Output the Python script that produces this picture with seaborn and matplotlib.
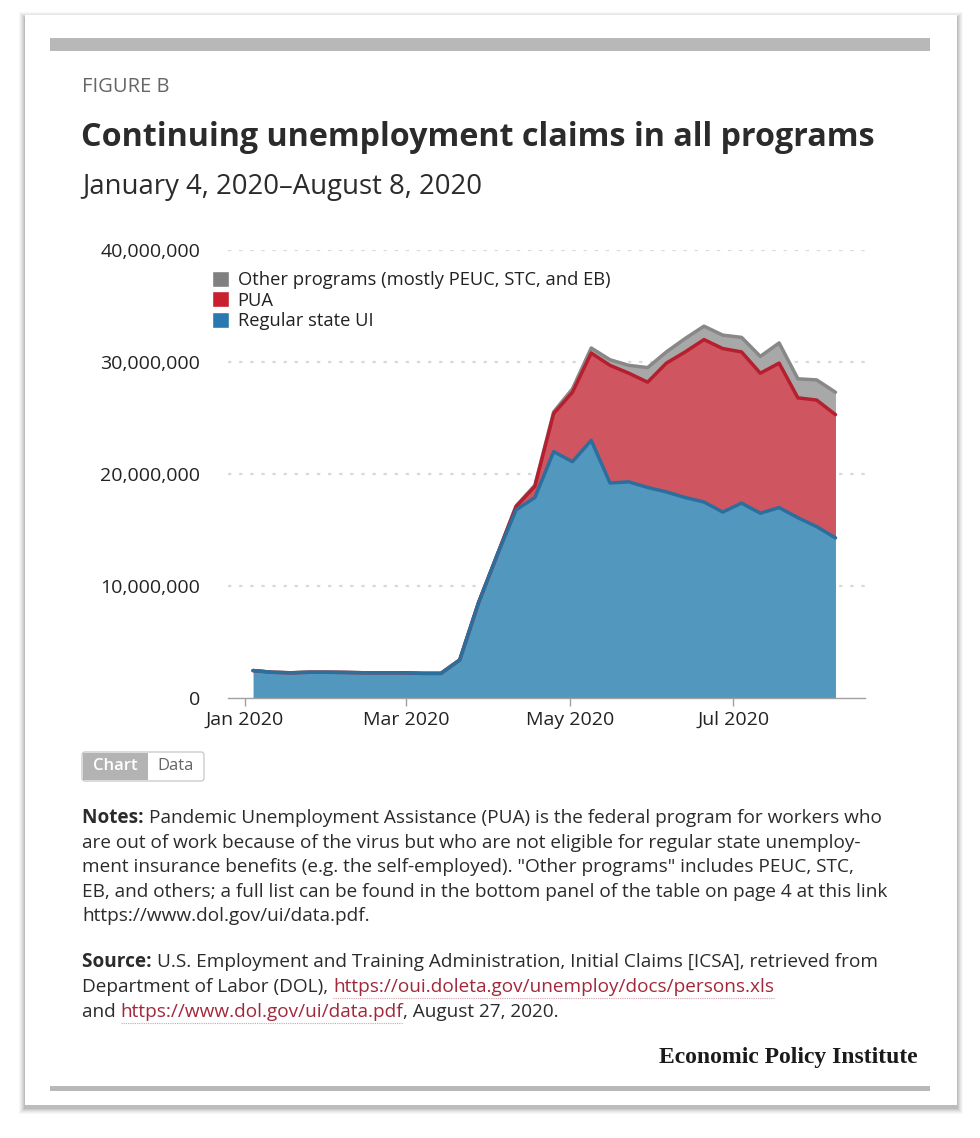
import pandas as pd
import numpy as np
import matplotlib.pyplot as plt
import matplotlib.dates as mdates
import seaborn as sns
from matplotlib.patches import Rectangle, FancyBboxPatch, Patch
from matplotlib.ticker import FuncFormatter

# Data (millions of continuing claims, weekly)
weeks = pd.date_range("2020-01-04", "2020-08-08", freq="7D")
regular_ui = [2.45, 2.3, 2.25, 2.3, 2.3, 2.28, 2.25, 2.25, 2.25, 2.2, 2.2, 3.4,
              8.5, 12.8, 16.8, 17.9, 22.0, 21.1, 23.0, 19.2, 19.3, 18.8, 18.4, 17.9,
              17.5, 16.6, 17.4, 16.5, 17.0, 16.1, 15.3, 14.3]
pua = [0, 0, 0, 0, 0, 0, 0, 0, 0, 0, 0, 0,
       0, 0, 0.3, 1.0, 3.4, 6.2, 7.8, 10.5, 9.7, 9.4, 11.5, 13.0,
       14.5, 14.6, 13.5, 12.5, 12.9, 10.7, 11.3, 11.0]
other = [0, 0, 0, 0, 0, 0, 0, 0, 0, 0, 0, 0,
         0, 0, 0.05, 0.1, 0.15, 0.3, 0.45, 0.5, 0.7, 1.3, 1.0, 1.2,
         1.2, 1.2, 1.3, 1.5, 1.8, 1.7, 1.8, 2.0]
series_labels = ["Other programs (mostly PEUC, STC, and EB)", "PUA", "Regular state UI"]
xtick_dates = ["2020-01-01", "2020-03-01", "2020-05-01", "2020-07-01"]

df = pd.DataFrame({"week": weeks, "ui": regular_ui, "pua": pua, "other": other})
df["ui_top"] = df["ui"] * 1e6
df["pua_top"] = df["ui_top"] + df["pua"] * 1e6
df["other_top"] = df["pua_top"] + df["other"] * 1e6

sns.set_theme(style="white")
plt.rcParams["font.family"] = ["Open Sans", "DejaVu Sans"]

W, H = 980, 1138
fig = plt.figure(figsize=(W / 100, H / 100), dpi=100)


def fx(x):
    return x / W


def fy(y):
    return 1 - y / H


# card with soft shadow
for i, a in enumerate([0.03, 0.03, 0.04, 0.05, 0.06, 0.08]):
    d = 6 - i
    fig.patches.append(Rectangle((fx(25 - d), fy(1105 + d + 3)), fx(932 + 2 * d), (1090 + 2 * d) / H,
                                 transform=fig.transFigure, facecolor="black", alpha=a, lw=0, zorder=0))
fig.patches.append(Rectangle((fx(25), fy(1105)), fx(932), 1090 / H, transform=fig.transFigure,
                             facecolor="white", lw=0, zorder=1))
fig.patches.append(Rectangle((fx(50), fy(51)), fx(880), 13 / H, transform=fig.transFigure,
                             facecolor="#b8b8b8", lw=0, zorder=2))
fig.patches.append(Rectangle((fx(50), fy(1091)), fx(880), 5 / H, transform=fig.transFigure,
                             facecolor="#b8b8b8", lw=0, zorder=2))

# header text
fig.text(fx(82), fy(87), "FIGURE B", fontsize=14.5, color="#666666", va="center")
fig.text(fx(81), fy(138), "Continuing unemployment claims in all programs", fontsize=23.2,
         fontweight="bold", color="#2b2b2b", va="center")
fig.text(fx(82), fy(187), "January 4, 2020\u2013August 8, 2020", fontsize=19.8, color="#2b2b2b", va="center")

# chart
ax = fig.add_axes([fx(228), fy(698), fx(865 - 228), (698 - 250) / H])
ax.set_zorder(3)
blue_fill, blue_edge = "#5297bd", "#2b6f9e"
red_fill, red_edge = "#cf5561", "#b61f2e"
gray_fill, gray_edge = "#a8a8a8", "#888888"

ax.fill_between(df["week"], 0, df["ui_top"], color=blue_fill, lw=0, zorder=2)
ax.fill_between(df["week"], df["ui_top"], df["pua_top"], color=red_fill, lw=0, zorder=2)
ax.fill_between(df["week"], df["pua_top"], df["other_top"], color=gray_fill, lw=0, zorder=2)
sns.lineplot(data=df, x="week", y="other_top", color=gray_edge, lw=2.5, ax=ax, zorder=3)
sns.lineplot(data=df, x="week", y="pua_top", color=red_edge, lw=2.5, ax=ax, zorder=4)
sns.lineplot(data=df, x="week", y="ui_top", color=blue_edge, lw=2.5, ax=ax, zorder=5)

ax.set_ylim(0, 40e6)
ax.set_xlim(pd.Timestamp("2019-12-25 16:00"), pd.Timestamp("2020-08-19"))
ax.set_yticks([0, 10e6, 20e6, 30e6, 40e6])
ax.yaxis.set_major_formatter(FuncFormatter(lambda v, p: f"{int(v):,}"))
ax.set_xticks(pd.to_datetime(xtick_dates))
ax.xaxis.set_major_formatter(mdates.DateFormatter("%b %Y"))
ax.set_xlabel("")
ax.set_ylabel("")
for yv in [10e6, 20e6, 30e6, 40e6]:
    ax.axhline(yv, color="#d9d9d9", lw=1.6, ls=(0, (1.5, 3.5)), zorder=1)
for s in ["top", "right", "left"]:
    ax.spines[s].set_visible(False)
ax.spines["bottom"].set_color("#a0a0a0")
ax.spines["bottom"].set_linewidth(1)
ax.tick_params(axis="y", length=0, pad=20, labelsize=14, labelcolor="#222222")
ax.tick_params(axis="x", length=6, width=1, color="#a0a0a0", pad=3.5, labelsize=14,
               labelcolor="#222222", bottom=True)

handles = [Patch(facecolor="#808080"), Patch(facecolor="#c8202f"), Patch(facecolor="#2a78b0")]
leg = ax.legend(handles, series_labels, loc="upper left", bbox_to_anchor=(fx(212), fy(271)),
                bbox_transform=fig.transFigure, frameon=False, fontsize=13.2, handlelength=0.95,
                handleheight=0.95, handletextpad=0.45, labelspacing=0.12, borderaxespad=0,
                borderpad=0)
for t in leg.get_texts():
    t.set_color("#222222")

# Chart / Data toggle
fig.patches.append(FancyBboxPatch((fx(82), fy(781)), fx(122), 29 / H, boxstyle="round,pad=0,rounding_size=0.003",
                                  transform=fig.transFigure, facecolor="white", edgecolor="#cccccc", lw=1, zorder=2))
fig.patches.append(Rectangle((fx(83), fy(780)), fx(65), 27 / H, transform=fig.transFigure,
                             facecolor="#b3b3b3", lw=0, zorder=3))
fig.text(fx(115), fy(766), "Chart", fontsize=12, fontweight="semibold", color="white", ha="center", va="center", zorder=4)
fig.text(fx(176), fy(766), "Data", fontsize=12, color="#666666", ha="center", va="center", zorder=4)

# notes and source with inline bold labels and links
renderer = fig.canvas.get_renderer()
body_size = 13.7
body_color = "#2b2b2b"
link_color = "#a3273a"


def write_line(y, parts):
    x = fx(82)
    for txt, style in parts:
        kw = dict(fontsize=body_size, color=body_color, va="baseline")
        if style == "bold":
            kw["fontweight"] = "bold"
        if style == "link":
            kw["color"] = link_color
        t = fig.text(x, fy(y), txt, **kw)
        bb = t.get_window_extent(renderer)
        if style == "link":
            fig.add_artist(plt.Line2D([bb.x0 / W, bb.x1 / W], [fy(y + 6), fy(y + 6)],
                                      transform=fig.transFigure, color="#d8a0a8", lw=0.8,
                                      ls=(0, (1, 1))))
        x = bb.x1 / W


notes = [
    [("Notes: ", "bold"), ("Pandemic Unemployment Assistance (PUA) is the federal program for workers who", None)],
    [("are out of work because of the virus but who are not eligible for regular state unemploy-", None)],
    [("ment insurance benefits (e.g. the self-employed). \"Other programs\" includes PEUC, STC,", None)],
    [("EB, and others; a full list can be found in the bottom panel of the table on page 4 at this link", None)],
    [("https://www.dol.gov/ui/data.pdf.", None)],
]
for i, parts in enumerate(notes):
    write_line(823 + i * 24.6, parts)

source = [
    [("Source: ", "bold"), ("U.S. Employment and Training Administration, Initial Claims [ICSA], retrieved from", None)],
    [("Department of Labor (DOL), ", None), ("https://oui.doleta.gov/unemploy/docs/persons.xls", "link")],
    [("and ", None), ("https://www.dol.gov/ui/data.pdf", "link"), (", August 27, 2020.", None)],
]
for i, parts in enumerate(source):
    write_line(967 + i * 25, parts)

fig.text(fx(918), fy(1057), "Economic Policy Institute", fontsize=17, fontweight="bold",
         family=["Liberation Serif", "DejaVu Serif"], color="#1a1a1a", ha="right", va="center")

fig.savefig("out.png", dpi=100)
